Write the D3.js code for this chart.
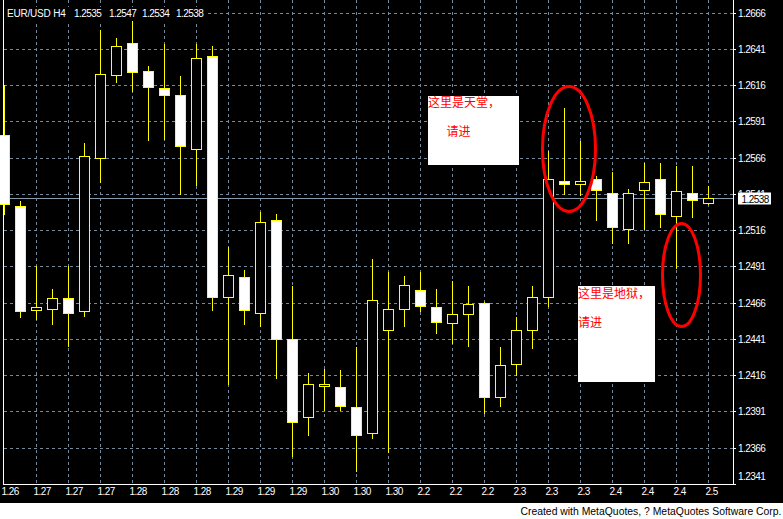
<!DOCTYPE html>
<html><head><meta charset="utf-8">
<script src="https://cdn.jsdelivr.net/npm/d3@7"></script>
<style>body{margin:0;background:#fff;overflow:hidden}</style>
</head><body>
<svg id="c" width="783" height="519"></svg>
<script>
// ---------- data ----------
const symbol = "EUR/USD H4";
const headerValues = ["1.2535", "1.2547", "1.2534", "1.2538"];
const xLabels = ["1.26","1.27","1.27","1.27","1.28","1.28","1.28","1.29","1.29","1.29","1.30","1.30","1.30",
                 "2.2","2.2","2.2","2.3","2.3","2.3","2.4","2.4","2.4","2.5"];
const open  = [1.2582,1.2533,1.2461,1.2462,1.2469,1.2460,1.2566,1.2623,1.2645,1.2626,1.2614,1.2609,1.2572,1.2636,1.2470,
               1.2484,1.2459,1.2523,1.2441,1.2387,1.2409,1.2408,1.2394,1.2376,1.2447,1.2462,1.2475,1.2463,1.2452,1.2458,
               1.2466,1.2401,1.2424,1.2447,1.2470,1.2550,1.2548,1.2551,1.2542,1.2517,1.2544,1.2551,1.2526,1.2542,1.2535];
const high  = [1.2617,1.2537,1.2492,1.2476,1.2492,1.2577,1.2655,1.2649,1.2662,1.2630,1.2645,1.2623,1.2645,1.2644,1.2505,
               1.2489,1.2529,1.2528,1.2478,1.2418,1.2421,1.2420,1.2436,1.2497,1.2488,1.2485,1.2488,1.2476,1.2482,1.2478,
               1.2467,1.2436,1.2457,1.2478,1.2571,1.2601,1.2578,1.2554,1.2557,1.2545,1.2563,1.2563,1.2561,1.2561,1.2547];
const low   = [1.2527,1.2456,1.2455,1.2451,1.2436,1.2457,1.2549,1.2618,1.2612,1.2578,1.2579,1.2541,1.2547,1.2461,1.2410,
               1.2451,1.2450,1.2414,1.2360,1.2375,1.2392,1.2392,1.2350,1.2373,1.2363,1.2450,1.2460,1.2445,1.2438,1.2436,
               1.2390,1.2395,1.2416,1.2435,1.2464,1.2541,1.2540,1.2523,1.2507,1.2507,1.2517,1.2518,1.2490,1.2525,1.2534];
const close = [1.2534,1.2460,1.2463,1.2469,1.2459,1.2567,1.2624,1.2643,1.2625,1.2615,1.2609,1.2574,1.2635,1.2470,1.2485,
               1.2461,1.2522,1.2441,1.2384,1.2410,1.2410,1.2395,1.2375,1.2468,1.2462,1.2478,1.2464,1.2453,1.2458,1.2465,
               1.2401,1.2423,1.2447,1.2470,1.2551,1.2548,1.2550,1.2544,1.2518,1.2542,1.2549,1.2527,1.2543,1.2537,1.2538];
const priceTicks = [1.2666,1.2641,1.2616,1.2591,1.2566,1.2541,1.2516,1.2491,1.2466,1.2441,1.2416,1.2391,1.2366,1.2341];
const lastPrice = 1.2538;
const noteTexts = [["这里是天堂，","请进"],["这里是地狱，","请进"]];
const footerText = "Created with MetaQuotes, ? MetaQuotes Software Corp.";

// ---------- drawing ----------
const svg = d3.select("#c");
const FONT = "'Liberation Sans', Arial, sans-serif";
const GRID = "#778899";
const YEL = "#ffff00";

svg.append("rect").attr("x",0).attr("y",0).attr("width",783).attr("height",503).attr("fill","#000");

const n = open.length;
const x = d3.scaleLinear().domain([0, n-1]).range([4, 708]).interpolate(d3.interpolateRound);
const y = d3.scaleLinear().domain([1.2341, 1.2666]).range([484, 12.75]).interpolate(d3.interpolateRound);
const px = v => x(v) + 0.5, py = v => y(v) + 0.5;

// grid
const grid = svg.append("g").attr("stroke", GRID).attr("stroke-dasharray","3,3").attr("shape-rendering","crispEdges");
grid.selectAll("line.h").data(priceTicks.filter(p => y(p) < 480)).join("line")
  .attr("class","h").attr("x1",4).attr("x2",733).attr("y1",d=>py(d)).attr("y2",d=>py(d));
const xTickIdx = d3.range(0, n, 2);
grid.selectAll("line.v").data(xTickIdx.filter(i => i > 0)).join("line")
  .attr("class","v").attr("y1",0).attr("y2",484).attr("x1",d=>px(d)).attr("x2",d=>px(d));

// current price line
svg.append("line").attr("x1",4).attr("x2",733).attr("y1",py(lastPrice)).attr("y2",py(lastPrice))
  .attr("stroke","#8899aa").attr("shape-rendering","crispEdges");

// candles
const data = open.map((o,i)=>({i, o, h:high[i], l:low[i], c:close[i]}));
const cg = svg.append("g").attr("shape-rendering","crispEdges");
cg.selectAll("line.w").data(data).join("line").attr("class","w")
  .attr("x1",d=>px(d.i)).attr("x2",d=>px(d.i)).attr("y1",d=>py(d.h)).attr("y2",d=>py(d.l))
  .attr("stroke",YEL);
cg.selectAll("rect.b").data(data).join("rect").attr("class","b")
  .attr("x",d=>px(d.i)-5).attr("width",10)
  .attr("y",d=>py(Math.max(d.o,d.c)))
  .attr("height",d=>Math.max(2, py(Math.min(d.o,d.c)) - py(Math.max(d.o,d.c))))
  .attr("fill",d=>d.c>=d.o ? "#000" : "#fff").attr("stroke",YEL);

// annotations
const boxes = [{x:428,y:96,w:91,h:69, t1:[428,106.5], t2:[446.5,135.5]},
               {x:578,y:286,w:77,h:96, t1:[578,297.5], t2:[578,326.5]}];
boxes.forEach((b,k)=>{
  svg.append("rect").attr("x",b.x).attr("y",b.y).attr("width",b.w).attr("height",b.h).attr("fill","#fff");
  svg.append("text").attr("x",b.t1[0]).attr("y",b.t1[1]).text(noteTexts[k][0])
    .attr("fill","#ff0000").attr("font-family","'Noto Sans CJK SC'").attr("font-size",12);
  svg.append("text").attr("x",b.t2[0]).attr("y",b.t2[1]).text(noteTexts[k][1])
    .attr("fill","#ff0000").attr("font-family","'Noto Sans CJK SC'").attr("font-size",12);
});
svg.append("ellipse").attr("cx",569).attr("cy",149).attr("rx",26.5).attr("ry",62.5)
  .attr("fill","none").attr("stroke","#ff0000").attr("stroke-width",3);
svg.append("ellipse").attr("cx",681.5).attr("cy",275).attr("rx",19).attr("ry",51.5)
  .attr("fill","none").attr("stroke","#ff0000").attr("stroke-width",3);

// borders
const bd = svg.append("g").attr("stroke","#fff").attr("shape-rendering","crispEdges");
bd.append("line").attr("x1",3.5).attr("x2",3.5).attr("y1",0).attr("y2",484.5);
bd.append("line").attr("x1",733.5).attr("x2",733.5).attr("y1",0).attr("y2",484.5);
bd.append("line").attr("x1",3).attr("x2",734).attr("y1",484.5).attr("y2",484.5);

// right price axis
const yAxis = d3.axisRight(y).tickValues(priceTicks).tickFormat(d=>d.toFixed(4)).tickSize(3).tickPadding(2);
const ya = svg.append("g").attr("transform","translate(733,0)").call(yAxis);
ya.select(".domain").remove();
ya.selectAll(".tick line").attr("stroke","#fff").attr("shape-rendering","crispEdges");
ya.selectAll(".tick text").attr("fill","#fff").attr("font-family",FONT).attr("font-size",10)
  .attr("letter-spacing","-0.55px")
  .filter(d=>d===1.2341).attr("dy","-0.45em");

// bottom time axis
const xAxis = d3.axisBottom(x).tickValues(xTickIdx).tickFormat((d,k)=>xLabels[k]).tickSize(0).tickPadding(4);
const xa = svg.append("g").attr("transform","translate(0,484)").call(xAxis);
xa.select(".domain").remove();
xa.selectAll(".tick text").attr("fill","#fff").attr("font-family",FONT).attr("font-size",10)
  .attr("letter-spacing","-0.55px").attr("text-anchor","start").attr("x",-3);

// header
svg.append("rect").attr("x",4).attr("y",7).attr("width",201).attr("height",14).attr("fill","#000");
svg.append("text").attr("x",7).attr("y",17).text(symbol)
  .attr("fill","#fff").attr("font-family",FONT).attr("font-size",10).attr("letter-spacing","-0.2px");
const hx = [74,109,142,176];
headerValues.forEach((v,k)=>{
  svg.append("text").attr("x",hx[k]).attr("y",17).text(v)
    .attr("fill","#fff").attr("font-family",FONT).attr("font-size",10).attr("letter-spacing","-0.55px");
});

// last price label
svg.append("rect").attr("x",738).attr("y",py(lastPrice)-6).attr("width",33).attr("height",12).attr("fill","#fff");
svg.append("text").attr("x",741.5).attr("y",py(lastPrice)+4).text(lastPrice.toFixed(4))
  .attr("fill","#000").attr("font-family",FONT).attr("font-size",10).attr("letter-spacing","-0.55px");

// footer
svg.append("text").attr("x",781.5).attr("y",515).attr("text-anchor","end").text(footerText)
  .attr("fill","#000").attr("font-family",FONT).attr("font-size",10.4);
</script>
</body></html>
